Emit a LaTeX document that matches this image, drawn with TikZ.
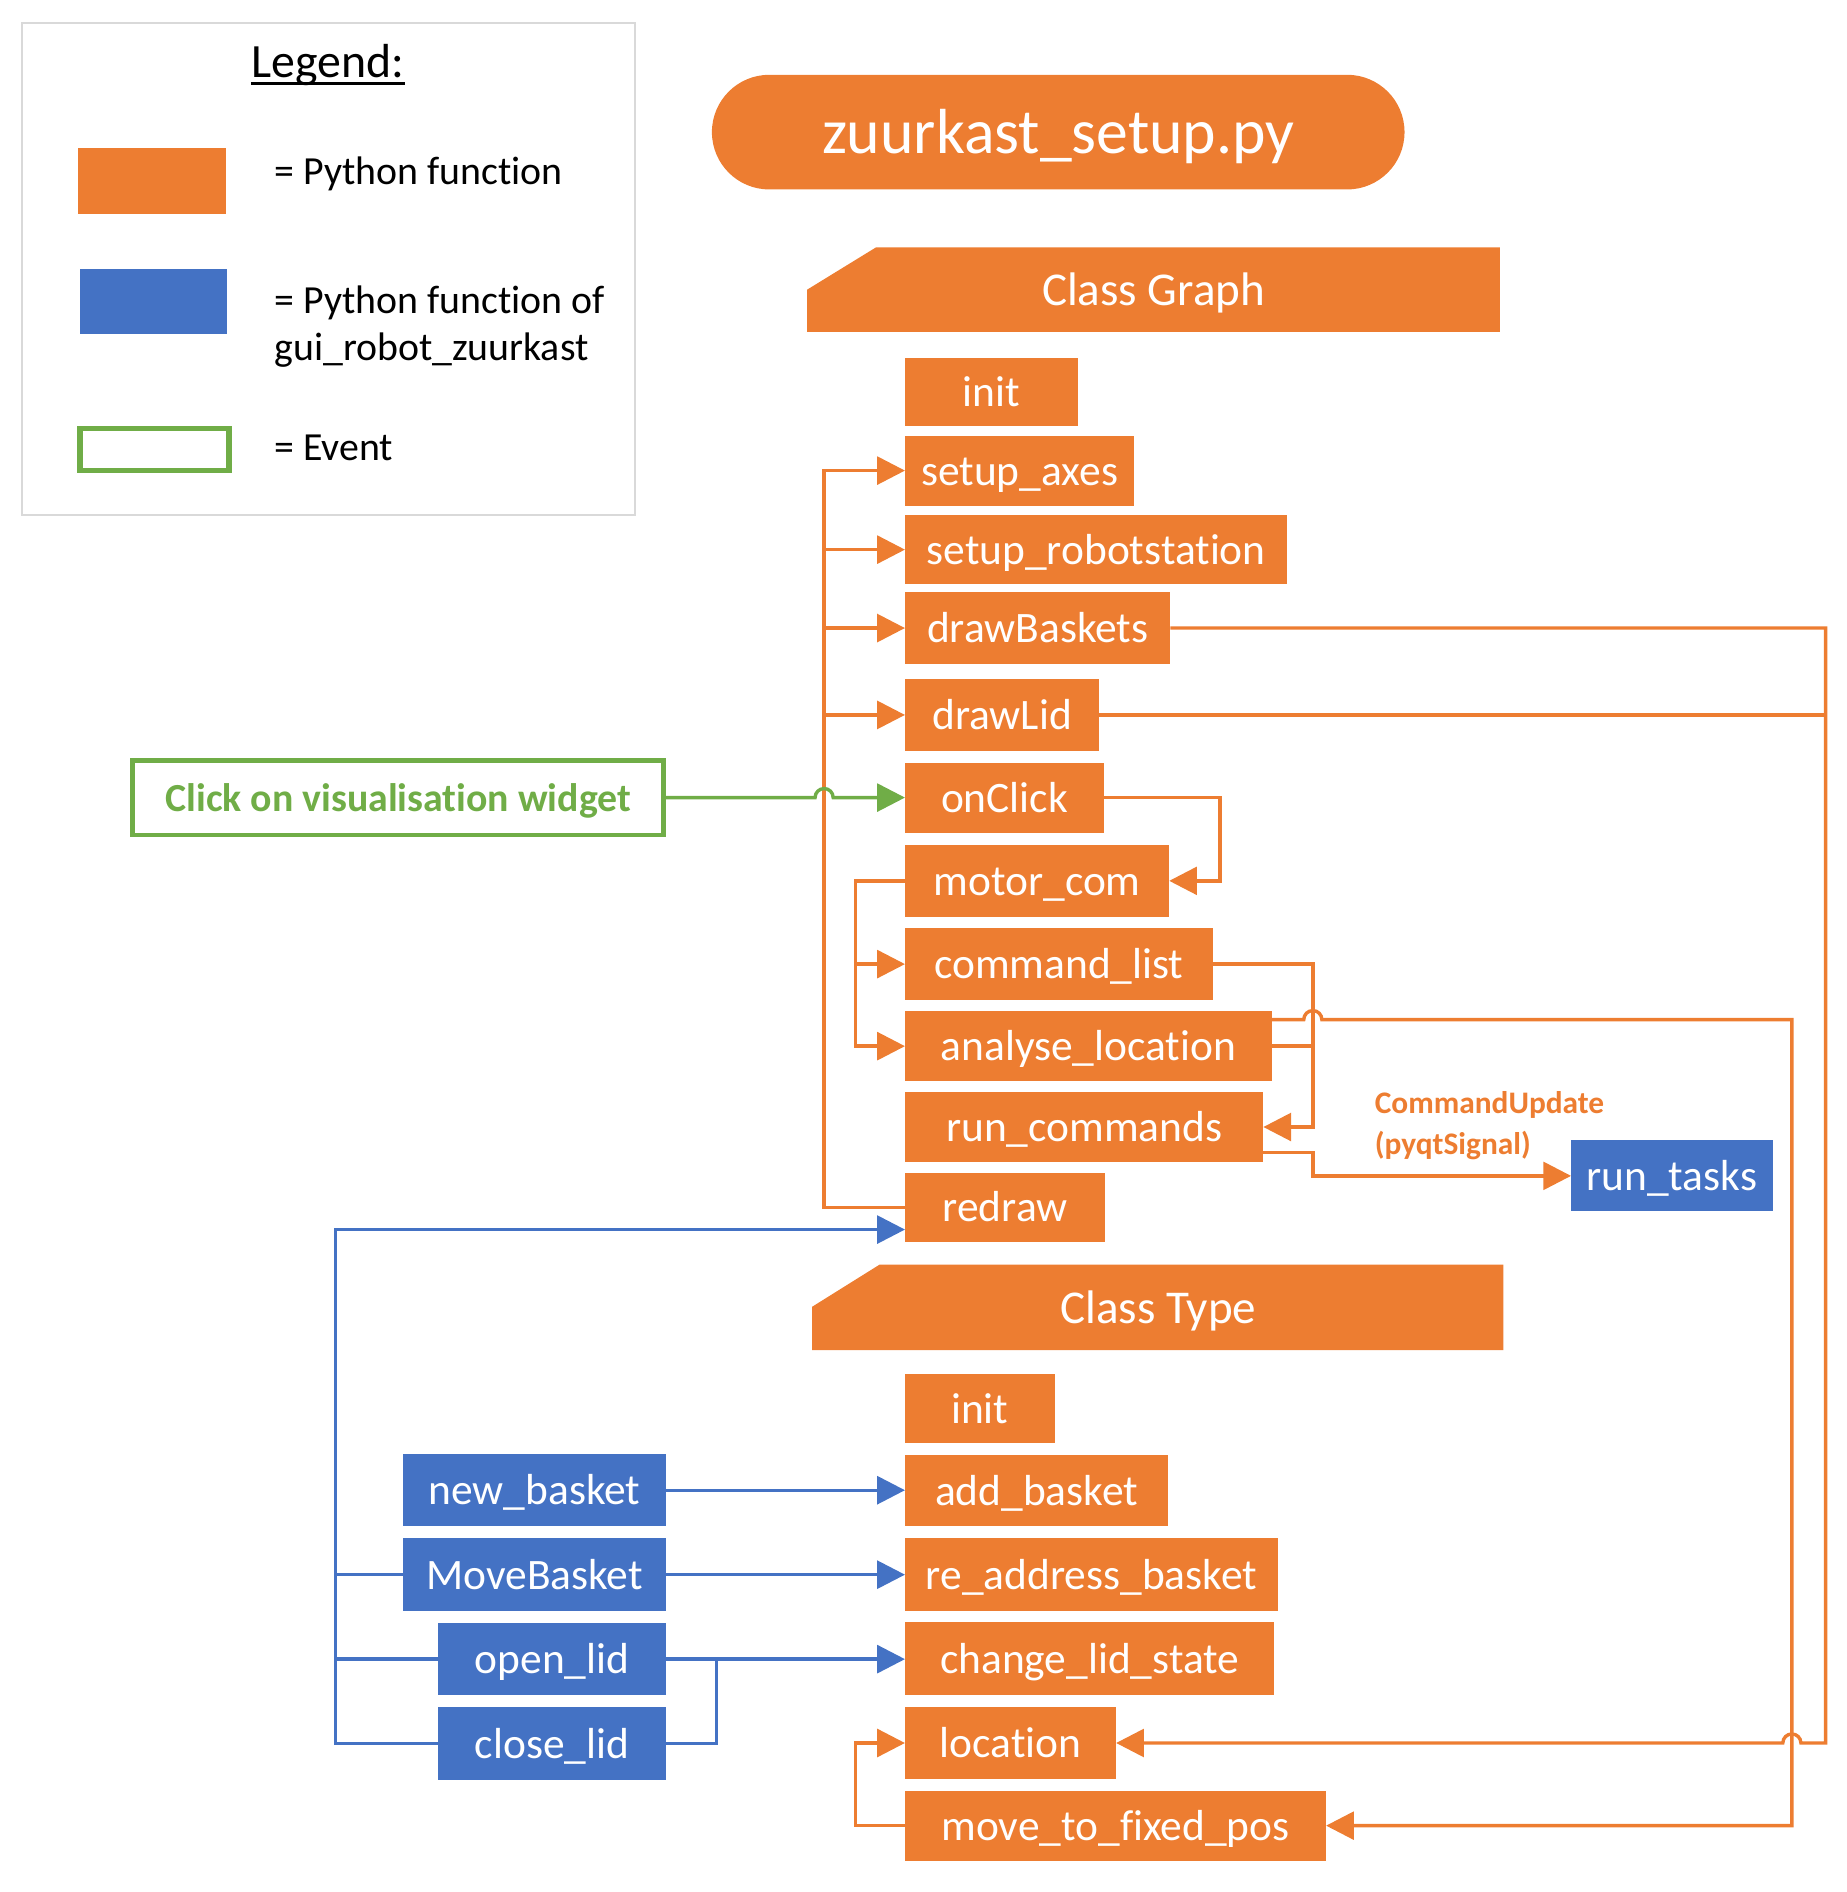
\documentclass[tikz,border=0pt]{standalone}
\usepackage{fontspec}
\setmainfont{Carlito}[Ligatures=NoCommon]
\usetikzlibrary{arrows.meta,fit,calc}
\definecolor{orng}{HTML}{ED7D31}
\definecolor{blu}{HTML}{4472C4}
\definecolor{grn}{HTML}{70AD47}
\definecolor{lgray}{HTML}{D9D9D9}
\begin{document}
\begin{tikzpicture}[x=0.5pt,y=-0.5pt,
  txt/.style={inner sep=0pt, outer sep=0pt, text=white, font=\fontsize{18}{21}\selectfont, text height=16.2pt, text depth=4pt},
  obox/.style={inner sep=0pt, outer sep=0pt, fill=orng},
  bbox/.style={inner sep=0pt, outer sep=0pt, fill=blu},
  hdr/.style={inner sep=0pt, text=white, font=\fontsize{19.5}{23}\selectfont, text height=17.5pt, text depth=4.3pt},
  legtext/.style={anchor=base west, inner sep=0pt, font=\fontsize{16.5}{20}\selectfont},
  oline/.style={draw=orng, line width=1.4pt},
  bline/.style={draw=blu, line width=1.4pt},
  gline/.style={draw=grn, line width=1.4pt},
  arr/.style={-{Triangle[length=11.5pt,width=11.5pt]}},
]
\useasboundingbox (0,0) rectangle (1530.7,1568);

% ---------- legend ----------
\node[draw=lgray, line width=0.75pt, inner sep=0pt, fit={(18,19) (526,427)}] (legend) {};
\node[anchor=base west, inner sep=0pt, font=\fontsize{19.8}{24}\selectfont] (legtitle) at (208,64) {Legend:};
\draw[line width=1.1pt] ($(legtitle.base west)+(0,5)$) -- ($(legtitle.base east)+(0,5)$);
\node[fill=orng, inner sep=0pt, fit={(65,123) (187,177)}] (legO) {};
\node[fill=blu, inner sep=0pt, fit={(66,223) (188,277)}] (legB) {};
\node[draw=grn, line width=2.25pt, inner sep=0pt, fit={(66.3,355.3) (189.7,389.7)}] (legG) {};
\node[legtext] (lt1) at (227,153) {= Python function};
\node[legtext] (lt2) at (227,260) {= Python function of};
\node[legtext] (lt3) at (227,299) {gui\_robot\_zuurkast};
\node[legtext] (lt4) at (227,382) {= Event};

% ---------- title and headers ----------
\node[fill=orng, rounded corners=23.75pt, inner sep=0pt,
  fit={(590,62) (1164,157)},
  label={[inner sep=0pt, text=white, font=\fontsize{26.4}{30}\selectfont, text height=23.8pt, text depth=5.8pt]center:zuurkast\_setup.py}] (title) {};
\fill[orng] (669,240) -- (726,205) -- (1243,205) -- (1243,275) -- (669,275) -- cycle;
\node[hdr] (cgraph) at (956,240) {Class Graph};
\fill[orng] (673,1083) -- (729,1048) -- (1246,1048) -- (1246,1119) -- (673,1119) -- cycle;
\node[hdr] (ctype) at (960,1083.5) {Class Type};

% ---------- class Graph ----------
\node[obox, fit={(750,297) (893,353)}, label={[txt]center:init}] (ginit) {};
\node[obox, fit={(750,361) (940,419)}, label={[txt]center:setup\_axes}] (gaxes) {};
\node[obox, fit={(750,427) (1067,484)}, label={[txt]center:setup\_robotstation}] (grobot) {};
\node[obox, fit={(750,491) (970,550)}, label={[txt]center:drawBaskets}] (gbask) {};
\node[obox, fit={(750,563) (911,622)}, label={[txt]center:drawLid}] (glid) {};
\node[obox, fit={(750,632) (915,690)}, label={[txt]center:onClick}] (gclick) {};
\node[obox, fit={(750,700) (969,760)}, label={[txt]center:motor\_com}] (gmotor) {};
\node[obox, fit={(750,769) (1005,829)}, label={[txt]center:command\_list}] (gcmd) {};
\node[obox, fit={(750,838) (1054,896)}, label={[txt]center:analyse\_location}] (gana) {};
\node[obox, fit={(750,905) (1047,963)}, label={[txt]center:run\_commands}] (grun) {};
\node[obox, fit={(750,972) (916,1029)}, label={[txt]center:redraw}] (gredraw) {};
\node[bbox, fit={(1302,945) (1469,1004)}, label={[txt]center:run\_tasks}] (tasks) {};

\node[draw=grn, line width=2pt, inner sep=0pt, fit={(110,630) (550,692)},
  label={[inner sep=0pt, text=grn, font=\bfseries\fontsize{16.5}{20}\selectfont, text height=14.9pt, text depth=3.6pt]center:Click on visualisation widget}] (event) {};

\node[anchor=base west, inner sep=0pt, text=orng, font=\bfseries\fontsize{13}{16}\selectfont] (lbl1) at (1139,923) {CommandUpdate};
\node[anchor=base west, inner sep=0pt, text=orng, font=\bfseries\fontsize{13}{16}\selectfont] (lbl2) at (1139,956.5) {(pyqtSignal)};

% ---------- class Type ----------
\node[obox, fit={(750,1139) (874,1196)}, label={[txt]center:init}] (tinit) {};
\node[obox, fit={(750,1206) (968,1265)}, label={[txt]center:add\_basket}] (tadd) {};
\node[obox, fit={(750,1275) (1059,1335)}, label={[txt]center:re\_address\_basket}] (tre) {};
\node[obox, fit={(750,1344) (1056,1405)}, label={[txt]center:change\_lid\_state}] (tchg) {};
\node[obox, fit={(750,1415) (925,1474)}, label={[txt]center:location}] (tloc) {};
\node[obox, fit={(750,1484) (1099,1542)}, label={[txt]center:move\_to\_fixed\_pos}] (tmove) {};

\node[bbox, fit={(334,1205) (552,1265)}, label={[txt]center:new\_basket}] (bnew) {};
\node[bbox, fit={(334,1275) (552,1335)}, label={[txt]center:MoveBasket}] (bmove) {};
\node[bbox, fit={(363,1345) (552,1405)}, label={[txt]center:open\_lid}] (bopen) {};
\node[bbox, fit={(363,1415) (552,1475)}, label={[txt]center:close\_lid}] (bclose) {};

% ---------- bus coordinates ----------
\coordinate (busA) at (683,0);
\coordinate (mbus) at (709,0);
\coordinate (cbus) at (1088,0);
\coordinate (rbus) at (1485,0);
\coordinate (rbus2) at (1513,0);
\coordinate (obus) at (594,0);
\coordinate (lbus) at (278,0);

% ---------- orange connectors ----------
\draw[oline,arr] (gredraw.west) -| (gaxes.west -| busA) -- (gaxes.west);
\draw[oline,arr] (grobot.west -| busA) -- (grobot.west);
\draw[oline,arr] (gbask.west -| busA) -- (gbask.west);
\draw[oline,arr] (glid.west -| busA) -- (glid.west);

\draw[gline,arr] (event.east) -- ($(gclick.west -| busA)+(-7.5,0)$)
  arc[start angle=180,end angle=0,radius=3.75pt] -- (gclick.west);

\draw[oline,arr] (gclick.east) -- ++(96,0) |- (gmotor.east);
\draw[oline,arr] (gmotor.west) -- (gmotor.west -| mbus) |- (gana.west);
\draw[oline,arr] (gcmd.west -| mbus) -- (gcmd.west);

\draw[oline,arr] (gcmd.east) -- (gcmd.east -| cbus) -- (grun.east -| cbus) -- (grun.east);
\draw[oline] (gana.east) -- (gana.east -| cbus);
\draw[oline,arr] ($(grun.east)+(0,21)$) -- ($(grun.east -| cbus)+(0,21)$) |- (tasks.west);

\draw[oline,arr] ($(gana.east)+(0,-22)$) -- ($(gana.east -| cbus)+(-7.5,-22)$)
  arc[start angle=180,end angle=0,radius=3.75pt] -- ($(gana.east -| rbus)+(0,-22)$) |- (tmove.east);

\draw[oline,arr] (gbask.east) -- (gbask.east -| rbus2) |- ($(tloc.east -| rbus)+(7.5,0)$)
  arc[start angle=0,end angle=180,radius=3.75pt] -- (tloc.east);
\draw[oline] (glid.east) -- (glid.east -| rbus2);

\draw[oline,arr] (tmove.west) -- (tmove.west -| mbus) |- (tloc.west);

% ---------- blue connectors ----------
\draw[bline,arr] (bnew.east) -- (bnew.east -| tadd.west);
\draw[bline,arr] (bmove.east) -- (bmove.east -| tre.west);
\draw[bline,arr] (bopen.east) -- (bopen.east -| tchg.west);
\draw[bline] (bclose.east) -| (bopen.east -| obus);
\draw[bline,arr] (bclose.west) -| ($(gredraw.west -| lbus)+(0,18.5)$) -- ($(gredraw.west)+(0,18.5)$);
\draw[bline] (bmove.west) -- (bmove.west -| lbus);
\draw[bline] (bopen.west) -- (bopen.west -| lbus);
\end{tikzpicture}
\end{document}
